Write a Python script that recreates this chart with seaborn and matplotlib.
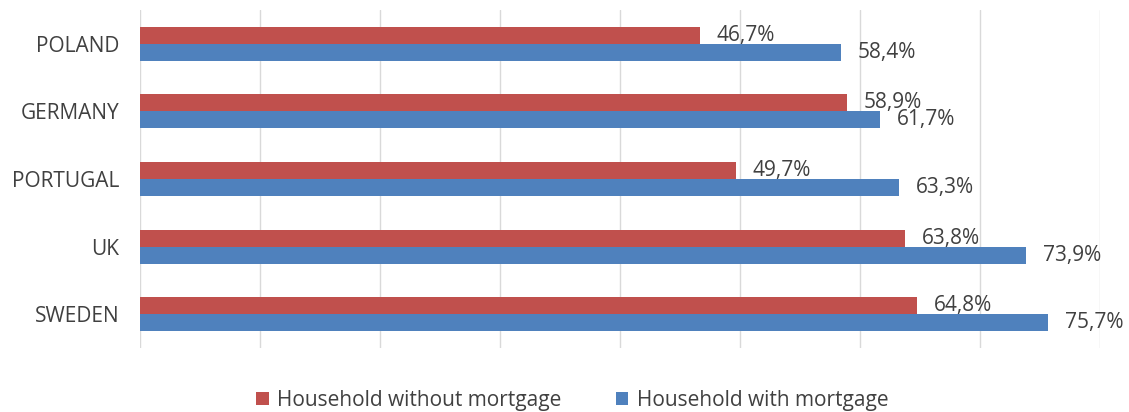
import matplotlib
matplotlib.use("Agg")
import matplotlib.pyplot as plt
import seaborn as sns
import pandas as pd

countries = ["POLAND", "GERMANY", "PORTUGAL", "UK", "SWEDEN"]
without_mortgage = [46.7, 58.9, 49.7, 63.8, 64.8]
with_mortgage = [58.4, 61.7, 63.3, 73.9, 75.7]
series = ["Household without mortgage", "Household with mortgage"]
colors = ["#C0504D", "#4F81BD"]

df = pd.DataFrame({
    "country": countries * 2,
    "value": without_mortgage + with_mortgage,
    "series": [series[0]] * len(countries) + [series[1]] * len(countries),
})

sns.set_theme(style="white")
plt.rcParams["font.family"] = ["Open Sans", "DejaVu Sans"]

fig = plt.figure(figsize=(11.29, 4.12), dpi=100)
ax = fig.add_axes([0.124, 0.155, 0.850, 0.821])

sns.barplot(data=df, x="value", y="country", hue="series", order=countries,
            hue_order=series, palette=colors, orient="h", width=0.5, gap=0,
            saturation=1, errorbar=None, linewidth=0, ax=ax)

for cont in ax.containers:
    labels = [f"{v:.1f}%".replace(".", ",") for v in cont.datavalues]
    ax.bar_label(cont, labels=labels, padding=12, fontsize=15, color="#404040")

ax.set_xlim(0, 80)
ax.set_ylim(4.5, -0.5)
ax.set_xticks(range(0, 81, 10))
ax.set_xticklabels([])
ax.tick_params(axis="x", length=0)
ax.tick_params(axis="y", length=0, labelsize=15, labelcolor="#404040", pad=15)
ax.grid(axis="x", color="#D9D9D9", linewidth=1)
ax.set_axisbelow(True)
for s in ax.spines.values():
    s.set_visible(False)
ax.set_xlabel("")
ax.set_ylabel("")

handles, lbls = ax.get_legend_handles_labels()
ax.get_legend().remove()
fig.legend(handles, lbls, loc="lower center", bbox_to_anchor=(0.507, -0.042),
           ncol=2, frameon=False, fontsize=15, labelcolor="#404040",
           handlelength=0.6, handleheight=0.6, handletextpad=0.4, columnspacing=2.6)

fig.savefig("out.png", dpi=100)
